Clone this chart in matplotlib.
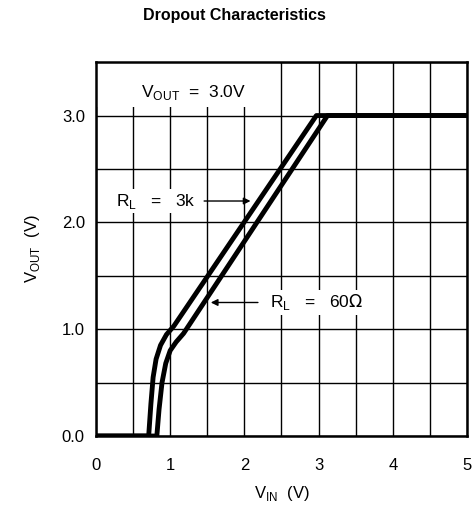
import matplotlib
matplotlib.use("Agg")
import matplotlib.pyplot as plt

plt.rcParams['font.family'] = ['Liberation Sans', 'DejaVu Sans']

# curve data
vin_3k = [0, 0.71, 0.74, 0.77, 0.81, 0.87, 0.95, 1.05, 2.97, 5]
vout_3k = [0, 0, 0.3, 0.55, 0.72, 0.85, 0.95, 1.03, 3.0, 3.0]
vin_60 = [0, 0.82, 0.85, 0.89, 0.94, 1.0, 1.08, 1.18, 3.12, 5]
vout_60 = [0, 0, 0.25, 0.5, 0.68, 0.8, 0.88, 0.96, 3.0, 3.0]

xticks = [0, 1, 2, 3, 4, 5]
yticks = [0.0, 1.0, 2.0, 3.0]
ylabels = ['0.0', '1.0', '2.0', '3.0']

fig = plt.figure(figsize=(4.74, 5.2), dpi=100)
ax = fig.add_axes([0.2025, 0.1615, 0.7827, 0.719])

ax.plot(vin_3k, vout_3k, color='black', lw=3.5, solid_joinstyle='round', solid_capstyle='butt', zorder=3)
ax.plot(vin_60, vout_60, color='black', lw=3.5, solid_joinstyle='round', solid_capstyle='butt', zorder=3)

ax.set_xlim(0, 5)
ax.set_ylim(0, 3.5)
ax.set_xticks(xticks)
ax.set_xticks([i * 0.5 for i in range(11)], minor=True)
ax.set_yticks(yticks)
ax.set_yticklabels(ylabels)
ax.set_yticks([i * 0.5 for i in range(8)], minor=True)
ax.grid(which='both', color='black', lw=1.0)
ax.tick_params(which='both', length=0, labelsize=12, pad=8)
ax.tick_params(axis='x', pad=16)
for s in ax.spines.values():
    s.set_linewidth(1.8)

box = dict(facecolor='white', edgecolor='none', pad=2)
ax.add_patch(plt.Rectangle((0.02, 3.08), 2.46, 0.41, facecolor='white', edgecolor='none', zorder=2))
ax.text(0.6, 3.22, r'V$_{\mathregular{OUT}}$  =  3.0V', fontsize=12.5, va='center', zorder=4)

ax.text(0.27, 2.2, r'R$_{\mathregular{L}}$   =   3k', fontsize=12.5, va='center', bbox=box, zorder=4)
ax.annotate('', xy=(2.12, 2.2), xytext=(1.42, 2.2),
            arrowprops=dict(arrowstyle='-|>', color='black', lw=1.0, mutation_scale=10), zorder=4)

ax.text(2.35, 1.25, r'R$_{\mathregular{L}}$   =   60$\Omega$', fontsize=12.5, va='center', bbox=box, zorder=4)
ax.annotate('', xy=(1.51, 1.25), xytext=(2.22, 1.25),
            arrowprops=dict(arrowstyle='-|>', color='black', lw=1.0, mutation_scale=10), zorder=4)

ax.set_xlabel(r'V$_{\mathregular{IN}}$  (V)', fontsize=12, labelpad=8)
ax.set_ylabel(r'V$_{\mathregular{OUT}}$  (V)', fontsize=12, labelpad=14)
fig.text(0.495, 0.97, 'Dropout Characteristics', ha='center', va='center', fontsize=11.5, fontweight='bold')

plt.savefig('out.png', dpi=100)
